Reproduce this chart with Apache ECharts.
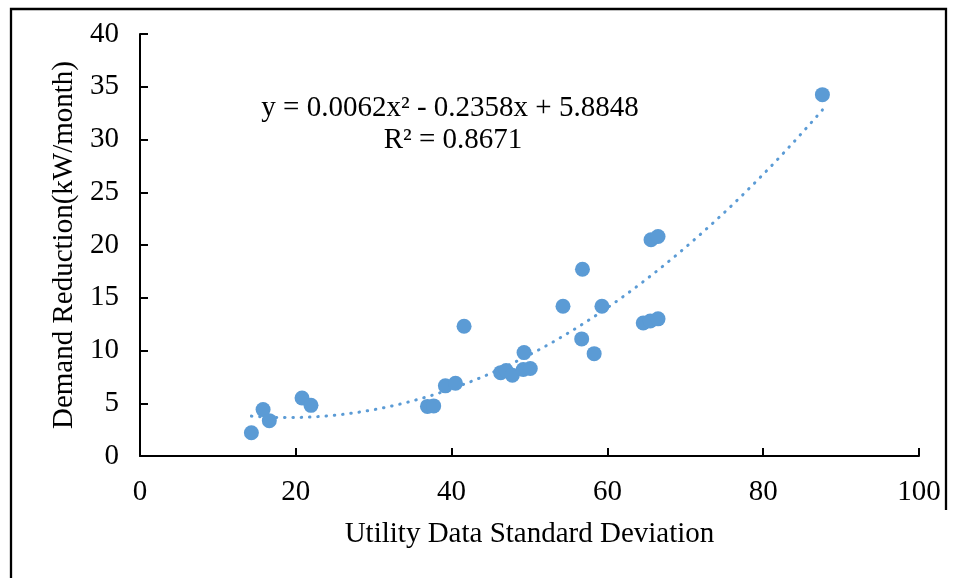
<!DOCTYPE html>
<html><head><meta charset="utf-8">
<script src="https://cdn.jsdelivr.net/npm/echarts@6/dist/echarts.min.js"></script>
<style>html,body{margin:0;padding:0;background:#fff}#c{width:961px;height:578px}</style>
</head><body><div id="c"></div>
<script>
// Data
const stdDev = [14.3, 15.8, 16.6, 20.8, 21.95, 36.9, 37.7, 39.2, 40.5, 41.6, 46.3, 47.0, 47.8, 49.3, 49.2, 50.1, 54.3, 65.6, 66.5, 56.8, 59.3, 56.7, 58.3, 64.6, 65.5, 66.5, 87.6];
const demandReduction = [2.2, 4.4, 3.35, 5.5, 4.8, 4.7, 4.75, 6.65, 6.9, 12.3, 7.9, 8.1, 7.65, 9.8, 8.2, 8.3, 14.2, 20.5, 20.8, 17.7, 14.2, 11.1, 9.7, 12.6, 12.8, 13.0, 34.25];
// Trendline coefficients as printed on the chart: y = a x^2 + b x + c
const trendCoef = [0.0062, -0.2358, 5.8848];
const equationText = 'y = 0.0062x² - 0.2358x + 5.8848';
const r2Text = 'R² = 0.8671';
const xAxisTitle = 'Utility Data Standard Deviation';
const yAxisTitle = 'Demand Reduction(kW/month)';

const points = stdDev.map((x, i) => [x, demandReduction[i]]);
const xMin = Math.min(...stdDev), xMax = Math.max(...stdDev);
const trend = [];
const steps = 200;
for (let i = 0; i <= steps; i++) {
  const x = xMin + (xMax - xMin) * i / steps;
  trend.push([x, trendCoef[0] * x * x + trendCoef[1] * x + trendCoef[2]]);
}

const FONT = 'Liberation Serif';
const FS = 29;
const blue = '#5b9bd5';
const chart = echarts.init(document.getElementById('c'), null, {renderer: 'canvas'});
chart.setOption({
  animation: false,
  backgroundColor: '#fff',
  grid: {left: 140, right: 42, top: 34, bottom: 122, containLabel: false},
  xAxis: {
    type: 'value', min: 0, max: 100, interval: 20,
    name: xAxisTitle, nameLocation: 'middle', nameGap: 64,
    nameTextStyle: {fontFamily: FONT, fontSize: FS, color: '#000'},
    axisLine: {onZero: false, lineStyle: {color: '#000', width: 2}},
    axisTick: {show: true, inside: true, length: 8, lineStyle: {color: '#000', width: 2}},
    axisLabel: {fontFamily: FONT, fontSize: FS, color: '#000', margin: 22},
    splitLine: {show: false}
  },
  yAxis: {
    type: 'value', min: 0, max: 40, interval: 5,
    name: yAxisTitle, nameLocation: 'middle', nameGap: 59, nameRotate: 90,
    nameTextStyle: {fontFamily: FONT, fontSize: FS, color: '#000'},
    axisLine: {show: true, onZero: false, lineStyle: {color: '#000', width: 2}},
    axisTick: {show: true, inside: true, length: 8, lineStyle: {color: '#000', width: 2}},
    axisLabel: {fontFamily: FONT, fontSize: FS, color: '#000', margin: 21},
    splitLine: {show: false}
  },
  series: [
    {
      type: 'line', data: trend, showSymbol: false, symbol: 'none', z: 1,
      lineStyle: {color: blue, width: 3, type: [0.5, 7.8], cap: 'round'}
    },
    {
      type: 'scatter', data: points, symbolSize: 15, z: 2,
      itemStyle: {color: blue, opacity: 1}
    }
  ],
  graphic: [
    {type: 'polyline', shape: {points: [[11, 578], [11, 9], [946, 9], [946, 510]]},
     style: {stroke: '#000', lineWidth: 2.3, fill: null}, silent: true},
    {type: 'text', style: {text: equationText, x: 450, y: 108, fontFamily: FONT, fontSize: FS, fill: '#000', textAlign: 'center', textVerticalAlign: 'middle'}},
    {type: 'text', style: {text: r2Text, x: 453, y: 140, fontFamily: FONT, fontSize: FS, fill: '#000', textAlign: 'center', textVerticalAlign: 'middle'}}
  ]
});
</script>
</body></html>
